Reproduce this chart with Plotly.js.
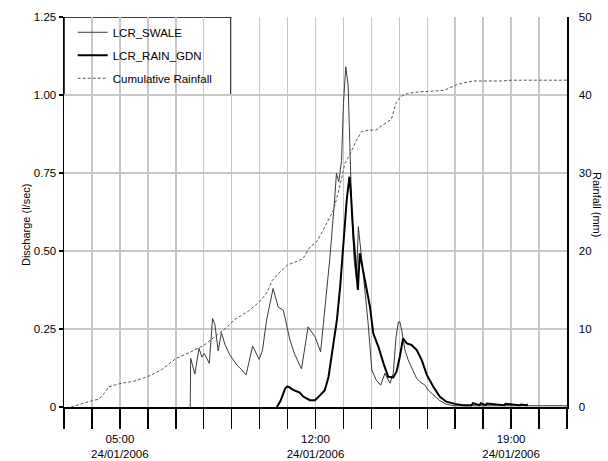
<!DOCTYPE html>
<html>
<head>
<meta charset="utf-8">
<script src="https://cdn.plot.ly/plotly-3.0.1.min.js"></script>
<style>html,body{margin:0;padding:0;background:#fff;}#chart{width:608px;height:461px;}</style>
</head>
<body>
<div id="chart"></div>
<script>
var DAY = '2006-01-24 ';

var swaleTime = ['07:31','07:32','07:41','07:50','07:56','08:01','08:12','08:19','08:24','08:31','08:38','08:46','08:56','09:11','09:21','09:31','09:45','09:59','10:06','10:15','10:29','10:40','10:51','11:05','11:15','11:30','11:44','11:59','12:11','12:17','12:23','12:31','12:41','12:45','12:50','12:56','13:00','13:05','13:10','13:14','13:18','13:23','13:28','13:32','13:36','13:46','13:53','14:01','14:10','14:20','14:29','14:40','14:47','14:53','14:58','15:01','15:05','15:12','15:19','15:30','15:37','15:44','15:55','16:02','16:13','16:27','16:41','16:56','21:00'];
var swaleValue = [0,0.156,0.106,0.188,0.160,0.172,0.140,0.284,0.265,0.180,0.238,0.199,0.167,0.135,0.120,0.103,0.195,0.153,0.180,0.279,0.380,0.320,0.310,0.215,0.170,0.122,0.257,0.225,0.177,0.268,0.343,0.480,0.663,0.749,0.722,0.790,0.973,1.090,1.032,0.845,0.620,0.471,0.407,0.578,0.514,0.375,0.268,0.119,0.087,0.070,0.108,0.076,0.108,0.225,0.273,0.273,0.247,0.183,0.151,0.113,0.092,0.081,0.070,0.054,0.038,0.020,0.009,0.004,0.004];

var gardenTime = ['10:37','10:45','10:55','11:00','11:05','11:12','11:26','11:34','11:48','11:59','12:10','12:20','12:28','12:35','12:46','12:53','13:00','13:07','13:13','13:16','13:21','13:25','13:28','13:31','13:35','13:39','13:46','13:57','14:04','14:15','14:26','14:36','14:47','14:54','15:01','15:08','15:16','15:26','15:37','15:48','15:59','16:13','16:27','16:41','16:59','17:17','17:35','17:38','17:52','17:55','18:05','18:08','18:45','18:48','19:18','19:21','19:33','19:36'];
var gardenValue = [0,0.020,0.060,0.066,0.062,0.055,0.046,0.033,0.022,0.022,0.038,0.054,0.097,0.172,0.279,0.386,0.514,0.663,0.738,0.685,0.557,0.471,0.407,0.375,0.493,0.460,0.407,0.321,0.236,0.193,0.140,0.097,0.095,0.113,0.161,0.220,0.204,0.199,0.183,0.151,0.103,0.065,0.033,0.017,0.010,0.006,0.006,0.012,0.006,0.012,0.006,0.011,0.006,0.010,0.006,0.008,0.006,0.008];

var rainTime = ['03:15','03:36','04:00','04:15','04:27','04:36','05:00','05:30','06:00','06:30','07:00','07:30','08:00','08:30','08:51','09:06','09:36','10:00','10:15','10:27','10:42','11:00','11:18','11:33','11:48','12:03','12:21','12:39','12:51','13:03','13:15','13:28','13:39','13:54','14:09','14:27','14:43','14:53','15:03','15:18','15:42','16:12','16:36','16:51','17:03','17:21','17:39','18:42','19:00','21:00'];
var rainValue = [0,0.4,0.8,1.0,1.8,2.6,3.0,3.3,3.9,4.8,6.2,7.0,7.9,9.3,10.3,11.2,12.3,13.5,14.6,16.2,17.2,18.2,18.6,19.0,20.5,21.2,23.2,25.3,28.0,31.2,32.5,34.2,35.3,35.5,35.5,36.2,36.9,39.0,39.8,40.2,40.4,40.5,40.6,41.0,41.3,41.6,41.8,41.8,41.9,41.9];

var hourTicks = ['03:00','04:00','05:00','06:00','07:00','08:00','09:00','10:00','11:00','12:00','13:00','14:00','15:00','16:00','17:00','18:00','19:00','20:00','21:00'];
var hourLabels = ['','','05:00<br>24/01/2006','','','','','','','12:00<br>24/01/2006','','','','','','','19:00<br>24/01/2006','',''];
var dischargeTicks = [0,0.25,0.5,0.75,1.0,1.25];
var dischargeLabels = ['0','0.25','0.50','0.75','1.00','1.25'];
var rainTicks = [0,10,20,30,40,50];

function full(a){ return a.map(function(t){ return DAY + t; }); }

var FONT = 'Liberation Sans, Arial, sans-serif';
var GRID = '#c8c8c8';

var traces = [
  {x: full(swaleTime), y: swaleValue, name: 'LCR_SWALE', type: 'scatter', mode: 'lines',
   line: {color: '#3a3a3a', width: 1}, legendgroup: 'a'},
  {x: full(gardenTime), y: gardenValue, name: 'LCR_RAIN_GDN', type: 'scatter', mode: 'lines',
   line: {color: '#000000', width: 2}, legendgroup: 'b'},
  {x: full(rainTime), y: rainValue, name: 'Cumulative Rainfall', type: 'scatter', mode: 'lines', yaxis: 'y2',
   line: {color: '#555555', width: 1, dash: '3px,2px'}, legendgroup: 'c'}
];

var layout = {
  width: 608, height: 461,
  margin: {l: 64, r: 41, t: 17, b: 54},
  paper_bgcolor: '#fff', plot_bgcolor: '#fff',
  font: {family: FONT, size: 11.5, color: '#000'},
  showlegend: true,
  legend: {x: 0.0173, y: 0.998, xanchor: 'left', yanchor: 'top', bgcolor: 'rgba(255,255,255,0)',
           borderwidth: 0, font: {family: FONT, size: 11.5, color: '#000'}, tracegroupgap: 4},
  xaxis: {type: 'date', range: [DAY + '03:00', DAY + '21:00'], tickmode: 'array',
          tickvals: full(hourTicks), ticktext: hourLabels, ticks: 'outside', ticklen: 20,
          tickwidth: 1.5, tickcolor: '#000', showline: true, linecolor: '#000', linewidth: 1.5,
          showgrid: true, gridcolor: GRID, gridwidth: 1.5, zeroline: false, ticklabelstandoff: 1,
          tickfont: {family: FONT, size: 11.5, color: '#000'}, fixedrange: true},
  yaxis: {range: [0, 1.25], tickmode: 'array', tickvals: dischargeTicks, ticktext: dischargeLabels,
          ticks: 'outside', ticklen: 4, tickwidth: 1.5, tickcolor: '#000', showline: true,
          linecolor: '#000', linewidth: 1.5, showgrid: true, gridcolor: GRID, gridwidth: 1.5,
          zeroline: false, tickfont: {family: FONT, size: 11.5, color: '#000'}},
  yaxis2: {range: [0, 50], overlaying: 'y', side: 'right', tickmode: 'array', tickvals: rainTicks,
           ticks: 'outside', ticklen: 0, ticklabelstandoff: 8, showline: true, linecolor: '#000', linewidth: 1.5,
           showgrid: false, zeroline: false, tickfont: {family: FONT, size: 11.5, color: '#000'}},
  shapes: [{type: 'rect', xref: 'paper', yref: 'y', x0: 0, x1: 0.332, y0: 1.0, y1: 1.25,
            line: {color: '#000', width: 1.5}, fillcolor: '#fff', layer: 'between'}],
  annotations: [
    {text: 'Discharge (l/sec)', xref: 'paper', yref: 'paper', x: -0.0915, y: 0.469,
     textangle: -90, showarrow: false, font: {family: FONT, size: 11, color: '#000'}},
    {text: 'Rainfall (mm)', xref: 'paper', yref: 'paper', x: 1.0755, y: 0.518,
     textangle: 90, showarrow: false, font: {family: FONT, size: 11, color: '#000'}}
  ]
};

Plotly.newPlot('chart', traces, layout, {displayModeBar: false, staticPlot: true});
</script>
</body>
</html>
